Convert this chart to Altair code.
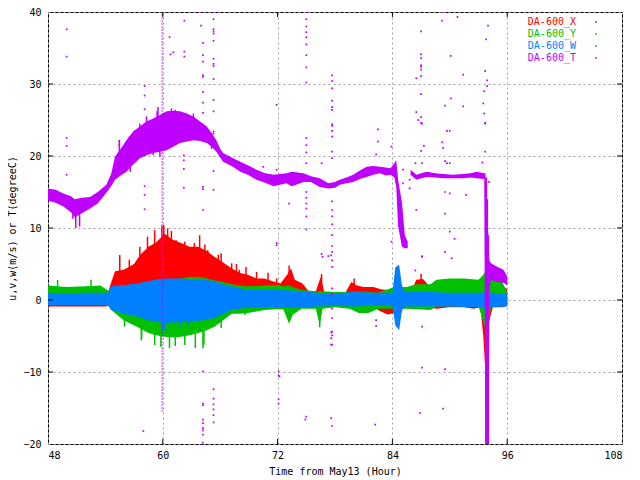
import altair as alt
import pandas as pd

# ---------------- data ----------------
x_ticks = [48, 60, 72, 84, 96, 108]
y_ticks = [-20, -10, 0, 10, 20, 30, 40]

legend_labels = ["DA-600_X", "DA-600_Y", "DA-600_W", "DA-600_T"]
legend_colors = ["#ff0000", "#00c000", "#0080ff", "#c000ff"]

# DA-600_X (red) envelope
x_time = [48.0, 54.0, 54.5, 55.0, 55.9, 57.0, 57.6, 58.5, 59.3, 60.2, 61.0, 61.9, 62.8, 63.7,
          64.6, 65.4, 66.3, 67.2, 68.0, 68.9, 69.8, 70.6, 71.5, 72.3, 73.0, 73.4, 73.8, 74.6,
          75.2, 76.0, 76.5, 76.9, 78.0, 79.0, 79.7, 80.3, 81.0, 82.0, 82.8, 83.5, 84.2, 85.0,
          86.0, 86.5, 87.2, 87.8, 88.6, 90.0, 91.5, 92.5, 93.2, 93.5, 93.7, 93.9, 94.5, 95.5, 96.0]
x_lo = [-0.9, -0.9, -0.8, -0.6, -0.8, -1.0, -1.0, -1.0, -1.0, -1.0, -1.0, -1.0, -1.0, -1.0,
        -1.0, -1.0, -1.0, -1.0, -0.9, -0.9, -0.9, -0.9, -0.8, -0.8, -0.8, -0.8, -0.8, -0.7,
        -0.7, -0.8, -0.9, -0.8, -0.8, -0.8, -0.8, -0.8, -0.9, -1.0, -1.6, -2.0, -1.8, -1.2,
        -1.0, -1.0, -1.0, -1.0, -1.2, -1.0, -1.0, -1.2, -1.0, -5.0, -9.5, -4.0, -1.0, -1.0, -0.8]
x_hi = [-0.2, -0.2, 2.0, 4.0, 4.2, 5.0, 6.2, 7.4, 8.0, 9.2, 8.4, 7.9, 7.4, 7.4,
        6.8, 6.0, 5.2, 4.4, 3.8, 3.5, 3.0, 3.0, 2.6, 2.3, 3.5, 4.4, 2.8, 2.3,
        1.3, 1.2, 3.2, 1.0, 0.8, 0.8, 2.5, 2.0, 1.8, 1.8, 1.5, 1.4, 1.3, 1.2,
        1.3, 2.8, 2.9, 2.0, 1.6, 1.5, 1.5, 1.5, 1.5, 1.5, 1.0, 1.5, 2.0, 2.0, 1.5]

# DA-600_Y (green) envelope
y_time = [48.0, 50.0, 52.0, 53.5, 54.3, 54.6, 55.9, 57.3, 58.5, 59.3, 60.2, 61.0, 61.9, 62.8,
          63.7, 64.6, 65.4, 66.3, 67.2, 68.0, 68.9, 70.6, 72.0, 72.6, 73.2, 73.6, 74.5, 76.0,
          76.4, 76.7, 78.0, 79.5, 80.5, 81.5, 82.5, 84.2, 85.5, 86.5, 88.0, 88.6, 90.0, 91.5,
          93.0, 93.5, 93.9, 94.3, 95.5, 96.0]
y_lo = [-0.6, -0.6, -0.6, -0.6, -0.8, -1.4, -2.8, -3.7, -4.6, -4.9, -5.1, -5.2, -5.1, -4.9,
        -4.6, -4.2, -3.7, -2.8, -1.9, -1.9, -1.8, -1.4, -1.3, -1.3, -3.3, -2.0, -1.2, -1.2,
        -3.5, -1.2, -1.0, -1.2, -1.8, -1.8, -1.2, -1.2, -1.2, -1.3, -1.4, -0.9, -0.9, -0.9,
        -0.9, -3.0, -5.0, -1.0, -0.8, -0.6]
y_hi = [2.0, 1.8, 1.9, 2.0, 1.3, 1.5, 2.0, 2.2, 2.5, 2.6, 2.8, 2.9, 3.0, 3.2,
        3.2, 3.0, 2.7, 2.5, 2.2, 2.0, 1.9, 2.0, 2.1, 1.9, 2.0, 1.8, 1.4, 1.2,
        1.2, 1.2, 1.1, 1.1, 1.2, 1.1, 1.0, 1.8, 1.8, 2.2, 2.2, 2.8, 3.0, 3.0,
        2.8, 3.5, 4.5, 3.5, 2.5, 1.0]

# DA-600_W (blue) envelope
w_time = [48.0, 50.0, 52.0, 54.3, 54.6, 55.9, 57.3, 58.8, 60.2, 61.5, 63.0, 64.3, 65.4, 66.3,
          67.2, 68.5, 70.0, 72.0, 74.0, 76.0, 78.0, 80.0, 82.0, 84.0, 84.3, 84.7, 85.0, 85.3,
          88.0, 90.0, 92.0, 93.4, 93.8, 94.3, 96.0]
w_lo = [-0.7, -0.7, -0.7, -0.7, -1.4, -1.9, -2.3, -2.9, -3.2, -3.1, -3.0, -2.8, -2.5, -1.9,
        -1.4, -1.1, -1.0, -1.0, -1.1, -0.9, -0.8, -0.9, -0.8, -0.8, -3.5, -4.2, -1.5, -0.9,
        -0.9, -0.9, -1.0, -1.0, -1.6, -1.0, -0.9]
w_hi = [1.0, 0.9, 1.0, 1.0, 1.9, 2.1, 2.3, 2.7, 3.0, 3.0, 2.9, 2.8, 2.6, 2.2,
        1.9, 1.5, 1.4, 1.4, 1.3, 1.0, 0.9, 1.1, 1.0, 1.0, 4.5, 4.9, 2.0, 1.1,
        1.1, 1.0, 1.0, 1.0, 1.2, 1.0, 0.9]

# DA-600_T (magenta) envelope, two segments
t_time = [48.0, 48.8, 49.6, 50.4, 50.8, 51.5, 52.4, 53.2, 54.1, 54.6, 55.0, 55.6, 56.2, 56.9,
          57.6, 58.3, 59.0, 59.7, 60.4, 61.1, 61.8, 62.5, 63.2, 63.9, 64.6, 65.1, 65.6, 66.0,
          66.3, 67.2, 68.1, 68.9, 69.8, 70.7, 71.6, 72.9, 73.5, 74.7, 75.5, 76.4, 77.3, 78.0,
          78.5, 79.2, 79.9, 80.6, 81.3, 82.0, 82.7, 83.3, 83.8, 84.2, 84.4, 84.6, 85.0, 85.3,
          85.6,
          85.9, 86.5, 87.0, 87.6, 88.5, 89.3, 90.3, 91.4, 92.2, 92.8, 93.6, 93.72, 94.05, 94.15,
          94.3, 95.0, 95.6, 96.0]
t_lo = [13.8, 13.5, 13.0, 12.2, 11.5, 12.0, 12.7, 13.4, 14.9, 15.8, 16.7, 17.3, 17.8, 18.8,
        19.7, 20.1, 20.4, 20.6, 20.8, 21.3, 21.8, 22.0, 22.2, 22.1, 21.8, 21.3, 20.6, 19.8,
        19.2, 18.6, 17.8, 17.4, 16.7, 16.3, 15.8, 16.2, 15.8, 16.4, 16.4, 15.7, 15.5, 15.6,
        16.0, 16.2, 16.4, 16.8, 17.1, 17.4, 17.6, 17.3, 17.4, 17.0, 15.7, 10.2, 7.4, 7.2,
        7.2,
        17.4, 16.7, 16.9, 17.1, 17.0, 16.9, 16.9, 16.9, 17.0, 16.9, 16.8, -20.0, -20.0, 1.8,
        2.8, 2.5, 2.4, 2.0]
t_hi = [15.5, 15.3, 14.8, 14.4, 14.0, 14.2, 14.3, 15.0, 16.0, 17.5, 19.9, 21.0, 22.2, 23.4,
        24.1, 24.8, 25.2, 25.7, 26.2, 26.3, 26.2, 25.9, 25.5, 24.8, 24.1, 23.2, 22.2, 21.0,
        20.4, 19.8, 19.2, 18.7, 18.1, 17.6, 17.4, 17.6, 17.8, 17.6, 17.2, 16.9, 16.2, 16.4,
        16.7, 17.0, 17.4, 18.0, 18.5, 18.6, 18.5, 18.4, 18.3, 19.0, 19.4, 16.7, 13.5, 9.0,
        8.1,
        18.1, 17.4, 17.6, 17.8, 17.6, 17.5, 17.4, 17.5, 17.6, 17.8, 17.6, 17.6, 8.0, 5.5,
        5.1, 4.6, 4.2, 3.3]
t_seg = [1] * 57 + [2] * 18

# narrow peaks, per series: time, from, to
xs_t = [55.5, 56.5, 57.6, 58.4, 59.15, 59.9, 60.1, 60.5, 60.9, 61.4, 62.3, 63.3, 63.85, 64.4,
        64.7, 65.8, 66.1, 67.2, 67.7, 68.0, 68.7, 69.8, 71.0, 71.9, 73.2, 76.6, 80.0, 87.0]
xs_lo = [2.0, 2.0, 3.0, 4.0, 4.0, 5.0, 5.0, 5.0, 5.0, 4.0, 4.0, 4.0, 4.0, 4.0,
         3.0, 3.0, 3.0, 2.0, 2.0, 2.0, 2.0, 1.5, 1.5, 1.5, 1.5, 1.0, 1.0, 1.0]
xs_hi = [6.25, 5.6, 7.4, 8.8, 9.7, 10.3, 10.4, 9.95, 9.6, 8.3, 8.1, 7.9, 9.0, 7.7,
         6.9, 6.3, 6.5, 5.1, 5.0, 4.2, 4.6, 3.9, 3.8, 3.0, 4.8, 3.6, 3.0, 3.6]

ys_t = [49.0, 52.5, 56.0, 57.75, 57.8, 59.15, 59.8, 60.7, 61.3, 62.3, 63.4, 64.2, 64.3, 66.1,
        68.6, 76.4]
ys_lo = [1.0, 1.0, -2.0, -3.0, -3.0, -3.0, -4.0, -4.0, -4.0, -4.0, -4.0, -4.0, -4.0, -2.0,
         -1.0, -2.0]
ys_hi = [2.8, 2.8, -3.7, -5.6, -5.2, -6.25, -6.5, -6.7, -6.4, -6.25, -6.7, -6.7, -6.2, -3.9,
         -2.1, -3.8]

ws_t = [60.0, 60.2, 61.9, 62.6]
ws_lo = [-2.0, -2.0, -2.0, -2.0]
ws_hi = [-4.2, -4.2, -3.9, -3.8]

ts_t = [50.6, 50.9, 51.3, 55.46, 56.5, 57.1, 57.6, 58.3, 59.4, 59.5, 60.4, 60.9, 61.3, 62.5,
        63.2, 64.2, 65.1, 56.6, 59.0, 59.7]
ts_lo = [12.0, 12.0, 12.0, 19.0, 20.0, 21.0, 22.0, 22.0, 23.0, 22.0, 23.0, 23.0, 23.0, 23.0,
         23.0, 22.0, 21.0, 19.0, 21.0, 21.0]
ts_hi = [11.3, 10.0, 10.2, 22.2, 22.7, 23.6, 24.5, 25.5, 26.2, 26.8, 25.9, 26.6, 26.4, 25.9,
         25.9, 24.5, 23.2, 17.8, 20.1, 19.9]

# dense column of T outliers near hour 60 and the T drop near hour 94
col_t = [59.93, 93.8, 93.9, 94.0]
col_lo = [-15.5, -20.0, -20.0, -20.0]
col_hi = [40.0, 17.0, 14.0, 9.0]

# scattered T outliers
out_t = [49.95, 49.95, 49.95, 49.95, 49.95, 55.45, 55.45, 57.97,
         58.1, 58.1, 58.1, 58.1, 58.1, 58.1,
         60.7, 61.1, 60.8, 62.25, 62.25, 62.25, 64.0, 64.0, 62.2, 62.2, 62.2, 62.2,
         64.2, 64.2, 64.2, 64.2, 64.2, 64.2, 64.2, 64.2, 64.2, 64.2, 64.2, 64.2, 64.2, 64.2,
         64.2, 64.2, 64.2, 64.2, 64.2, 64.2,
         65.3, 65.3, 65.3, 65.3, 65.3, 65.3, 65.3, 65.3, 65.3, 65.3, 65.3, 65.3, 65.3, 65.3,
         65.3, 65.3, 65.3, 65.3, 65.3, 65.3, 65.3, 65.3,
         70.5, 71.9, 71.9, 71.9, 72.1, 72.1, 72.1, 72.1, 72.2,
         75.0, 75.0, 75.0, 75.0, 75.0, 75.0, 75.0, 75.0, 75.0, 75.0, 75.0, 75.0, 75.0, 75.0,
         75.0, 75.0, 75.0, 75.0, 75.0, 75.0, 74.9,
         73.2, 71.9, 76.6, 76.6, 76.7, 77.3, 77.6,
         77.7, 77.7, 77.7, 77.7, 77.7, 77.7, 77.7, 77.7, 77.7, 77.7, 77.7, 77.7, 77.7, 77.7,
         77.7, 77.7, 77.7, 77.7, 77.7, 77.7, 77.7, 77.7, 77.7, 77.7, 77.7, 77.7, 77.7, 77.7,
         77.6, 77.6, 77.6, 77.6, 77.7,
         82.5, 82.5, 82.3, 82.3, 82.3, 83.9, 83.9, 82.2, 86.7, 87.1,
         87.0, 87.0, 87.0, 87.0, 87.0, 87.0, 87.0, 87.0, 87.0, 87.0,
         86.5, 86.5, 86.5, 89.2, 89.2, 90.8, 94.0, 93.8, 90.1, 90.1, 91.4, 91.4, 93.7, 93.7,
         93.9, 93.9, 93.6, 93.6, 89.5, 93.5,
         89.2, 89.3, 89.7, 90.0, 89.5, 89.7, 90.0, 87.3, 87.0, 93.7, 93.7, 93.4, 94.1,
         86.4, 87.1, 85.1, 85.1, 85.8, 85.8, 87.1,
         89.5, 89.5, 90.0, 90.0, 90.5, 91.7,
         87.1, 87.1, 87.1, 89.5, 89.5, 90.2, 86.4, 86.9, 89.3]
out_v = [37.6, 33.8, 22.5, 21.4, 17.4, 22.1, 21.5, -18.2,
         29.7, 28.4, 26.5, 15.8, 14.6, 12.6,
         36.5, 34.4, 34.1, 38.8, 34.5, 33.8, 40.0, 38.1, 20.1, 19.4, 18.2, 15.6,
         35.7, 34.0, 33.1, 31.2, 31.0, 28.9, 27.4, 26.0, 15.7, 15.4, 12.5, -9.9, -14.4, -14.6,
         -16.6, -17.1, -17.8, -18.1, -18.7, -19.8,
         40.0, 39.0, 37.6, 37.3, 37.0, 36.0, 33.5, 32.8, 32.5, 30.7, 27.8, 26.2, 23.4, 23.1,
         17.9, 15.3, -12.4, -13.7, -14.5, -15.2, -16.0, -17.0,
         18.5, 27.1, 18.1, 7.6, -9.9, -10.5, -13.8, -14.4, -10.6,
         40.0, 39.0, 38.0, 37.2, 36.5, 35.5, 34.0, 32.3, 30.2, 22.5, 21.5, 20.5, 19.0, 15.0,
         14.2, 13.4, 12.7, 11.6, 9.8, -16.2, -16.6,
         13.4, 7.9, 19.0, 6.4, 6.0, 6.1, 6.2,
         31.2, 30.4, 29.4, 27.7, 26.8, 26.4, 24.4, 24.2, 23.5, 22.7, 20.6, 19.7, 13.7, 12.5,
         11.6, 10.5, 9.0, 7.5, 6.7, 5.5, 4.6, 1.6, 0.8, -1.2, -2.5, -4.4, -4.9, -6.2,
         -4.5, -5.3, -6.2, -16.4, -17.5,
         23.7, 22.0, 20.2, -3.6, -2.8, 21.3, 8.1, -17.3, 25.0, 24.5,
         37.3, 34.1, 33.6, 32.6, 32.4, 32.0, 31.1, 28.6, 25.4, 24.6,
         30.8, 26.1, 12.5, 40.0, 38.8, 39.3, 38.1, 36.2, 33.9, 28.0, 31.3, 26.9, 31.8, 24.6,
         30.5, 29.7, 29.0, 25.9, 27.0, 27.3,
         21.9, 21.1, 23.5, 23.5, 19.3, 19.0, 19.0, 21.4, 20.7, 24.5, 20.6, 19.1, 16.4,
         19.0, 19.0, 18.1, 16.2, 16.7, 15.5, 6.0,
         15.0, 12.0, 14.8, 9.5, 8.5, 14.6,
         6.1, -9.4, -3.7, 6.7, -9.6, 5.8, 4.1, -15.7, -15.1]

# ---------------- chart ----------------
W, H = 574, 432
FONT = "DejaVu Sans Mono"
color_of = dict(zip(["X", "Y", "W", "T"], legend_colors))

xscale = alt.Scale(domain=[48, 108], nice=False, zero=False)
yscale = alt.Scale(domain=[-20, 40], nice=False, zero=False)
common_axis = dict(grid=True, ticks=False, tickSize=0, domain=False, format="d",
                   labelFont=FONT, titleFont=FONT, labelFontSize=10, titleFontSize=10,
                   labelColor="black", titleColor="black", titleFontWeight="normal",
                   labelFontWeight="normal", gridColor="#a0a0a0", gridDash=[2, 3],
                   gridWidth=1, gridOpacity=1)
xaxis = alt.Axis(values=x_ticks, title="Time from May13 (Hour)", labelPadding=6,
                 titlePadding=6, **common_axis)
yaxis = alt.Axis(values=y_ticks, title="u,v,w(m/s) or T(degreeC)", labelPadding=7,
                 titlePadding=5, **common_axis)


def X(field):
    return alt.X(field, type="quantitative", scale=xscale, axis=xaxis)


def Y(field):
    return alt.Y(field, type="quantitative", scale=yscale, axis=yaxis)


def band(times, lo, hi, color, seg=None):
    d = {"t": times, "lo": lo, "hi": hi}
    if seg is not None:
        d["seg"] = seg
    df = pd.DataFrame(d)
    enc = dict(x=X("t"), y=Y("lo"), y2=alt.Y2("hi"))
    if seg is not None:
        enc["detail"] = "seg:N"
    return alt.Chart(df).mark_area(color=color, opacity=1, interpolate="linear",
                                   clip=True).encode(**enc)


def spikes(times, lo, hi, color):
    df = pd.DataFrame({"t": times, "lo": lo, "hi": hi})
    return alt.Chart(df).mark_rule(color=color, strokeWidth=1.5, clip=True).encode(
        x=X("t"), y=Y("lo"), y2=alt.Y2("hi"))


layers = [
    band(x_time, x_lo, x_hi, color_of["X"]), spikes(xs_t, xs_lo, xs_hi, color_of["X"]),
    band(y_time, y_lo, y_hi, color_of["Y"]), spikes(ys_t, ys_lo, ys_hi, color_of["Y"]),
    band(w_time, w_lo, w_hi, color_of["W"]), spikes(ws_t, ws_lo, ws_hi, color_of["W"]),
    band(t_time, t_lo, t_hi, color_of["T"], t_seg), spikes(ts_t, ts_lo, ts_hi, color_of["T"]),
]

cols = pd.DataFrame({"t": col_t, "lo": col_lo, "hi": col_hi})
layers.append(alt.Chart(cols.iloc[:1]).mark_rule(color=color_of["T"], strokeWidth=1.5,
                                                 strokeDash=[1, 2], clip=True).encode(
    x=X("t"), y=Y("lo"), y2=alt.Y2("hi")))
layers.append(alt.Chart(cols.iloc[1:]).mark_rule(color=color_of["T"], strokeWidth=2,
                                                 clip=True).encode(
    x=X("t"), y=Y("lo"), y2=alt.Y2("hi")))

outl = pd.DataFrame({"t": out_t, "v": out_v})
layers.append(alt.Chart(outl).mark_square(color=color_of["T"], size=3, opacity=1,
                                          clip=True).encode(x=X("t"), y=Y("v")))

# inward tick marks (mirrored on all four sides)
xt = pd.DataFrame({"v": x_ticks[1:-1]})
yt = pd.DataFrame({"v": y_ticks[1:-1]})
for a, b in [(0, 5), (H - 5, H)]:
    layers.append(alt.Chart(xt).mark_rule(color="black", strokeWidth=1).encode(
        x=X("v"), y=alt.value(a), y2=alt.value(b)))
for a, b in [(0, 5), (W - 5, W)]:
    layers.append(alt.Chart(yt).mark_rule(color="black", strokeWidth=1).encode(
        y=Y("v"), x=alt.value(a), x2=alt.value(b)))

# key in the upper right corner: label, then a sample dot
for i, (lab, col) in enumerate(zip(legend_labels, legend_colors)):
    ldf = pd.DataFrame({"label": [lab]})
    layers.append(alt.Chart(ldf).mark_text(align="right", baseline="middle", font=FONT,
                                           fontSize=10, color=col).encode(
        text="label:N", x=alt.value(528), y=alt.value(10 + 12 * i)))
    layers.append(alt.Chart(ldf).mark_square(color=col, size=3, opacity=1).encode(
        x=alt.value(548), y=alt.value(10 + 12 * i)))

chart = alt.layer(*layers).properties(
    width=W, height=H,
    background="white",
    autosize=alt.AutoSizeParams(type="none"),
    padding={"left": 40, "top": 4, "right": 10, "bottom": 40},
).configure_view(
    stroke="black", strokeWidth=1
).configure_axis(
    labelFont=FONT, titleFont=FONT, labelFontSize=10, titleFontSize=10,
    labelColor="black", titleColor="black", titleFontWeight="normal",
    gridColor="#a0a0a0", gridDash=[2, 3], gridWidth=1, gridOpacity=1,
)

chart.save("out.html", embed_options={"renderer": "svg", "actions": False})
